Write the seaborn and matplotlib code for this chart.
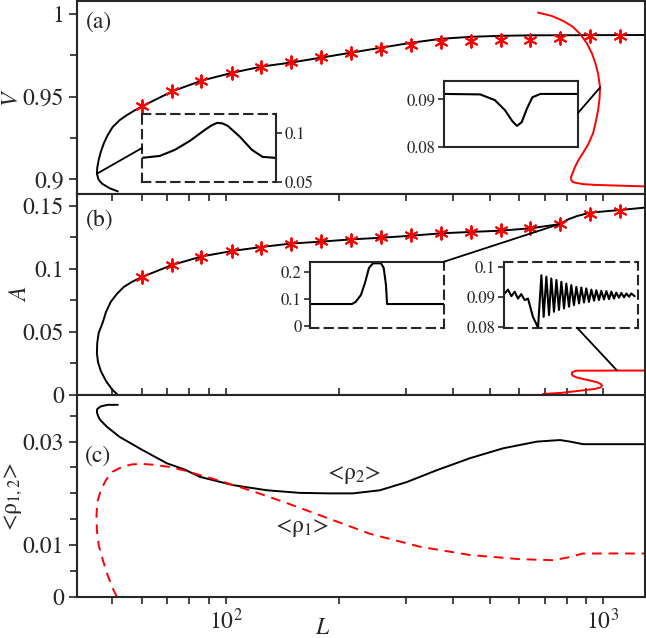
import numpy as np
import pandas as pd
import seaborn as sns
import matplotlib.pyplot as plt
from matplotlib.patches import ConnectionPatch
from matplotlib.ticker import FixedLocator, MultipleLocator, FuncFormatter, LogLocator, NullFormatter

# ---- valores ----
# (a) V frente a L, rama negra (rama inferior -> punto de giro -> rama superior)
L_v = [51.7, 49.2, 47.0, 46.0, 45.5, 45.6, 46.0, 46.6, 47.5, 48.6, 50.1, 52.3, 54.6, 57.4,
       60, 72, 86.4, 104, 124.6, 149, 179, 215, 258, 310, 372, 446, 535, 642, 1291]
V_v = [0.8926, 0.8945, 0.8972, 0.8996, 0.9033, 0.9069, 0.9117, 0.9165, 0.9219, 0.9267,
       0.9316, 0.9358, 0.9388, 0.9418, 0.9442, 0.9532, 0.9598, 0.9645, 0.9683, 0.9707,
       0.9737, 0.9767, 0.9797, 0.9827, 0.9851, 0.9863, 0.9869, 0.9872, 0.9874]
# (a) rama roja
L_vr = [672, 730, 783, 830, 869, 905, 935, 955, 970, 982, 978, 970, 957, 941, 915, 885, 860,
        843, 823, 823, 832, 855, 885, 960, 1063, 1291]
V_vr = [1.001, 0.999, 0.996, 0.9925, 0.9881, 0.9825, 0.9761, 0.9700, 0.964, 0.9556, 0.9480,
        0.9418, 0.9350, 0.9279, 0.9215, 0.9159, 0.9115, 0.9075, 0.9015, 0.8995, 0.8982,
        0.8976, 0.8970, 0.8965, 0.8962, 0.8956]

# simulaciones (asteriscos)
L_star = [60, 72, 86, 104, 124, 149, 179, 215, 258, 310, 372, 446, 535, 642, 770, 924, 1109]
V_star = [0.9442, 0.9534, 0.9598, 0.9645, 0.9683, 0.9709, 0.9739, 0.9765, 0.9789, 0.9815,
          0.9829, 0.9839, 0.9845, 0.9845, 0.9853, 0.9865, 0.9869]
A_star = [0.0934, 0.1032, 0.1098, 0.1143, 0.1169, 0.1198, 0.1225, 0.123, 0.1252, 0.127,
          0.1283, 0.1291, 0.131, 0.1328, 0.1357, 0.1437, 0.1463]

# (b) A frente a L
L_a = [51.7, 49.8, 48.1, 46.6, 45.8, 45.5, 45.6, 46.0, 47.2, 48.1, 49.5, 51.4, 53.6, 56.3,
       60, 72, 86.4, 104, 124.6, 149, 179, 215, 258, 310, 372, 446, 535, 642, 764, 810, 853,
       924, 1109, 1291]
A_a = [0, 0.0048, 0.0111, 0.019, 0.0262, 0.0333, 0.0413, 0.0492, 0.0579, 0.0659, 0.0738,
       0.0802, 0.0857, 0.0897, 0.0937, 0.1032, 0.11, 0.1143, 0.1175, 0.1202, 0.1217, 0.1235,
       0.1248, 0.1264, 0.1283, 0.1294, 0.1304, 0.1323, 0.1355, 0.1395, 0.142, 0.1447,
       0.1468, 0.1487]
L_ar = [693, 783, 885, 950, 985, 994, 985, 964, 925, 885, 850, 832, 826, 828, 840, 853, 964,
        1089, 1291]
A_ar = [0.0008, 0.0018, 0.0037, 0.0048, 0.0060, 0.0074, 0.0088, 0.0101, 0.0114, 0.0127,
        0.0140, 0.0153, 0.0166, 0.018, 0.0188, 0.0193, 0.0193, 0.0194, 0.0194]

# (c) densidades medias
L_r2 = [51.7, 48.6, 46.6, 45.6, 45.5, 45.8, 46.4, 48.3, 52.3, 60, 69.8, 77.8, 85.3, 104.4,
        128.5, 157, 188.6, 217, 256, 302, 363, 444, 543, 668, 769, 817, 885, 1000, 1291]
rho2 = [0.0371, 0.0371, 0.0368, 0.0363, 0.0357, 0.0350, 0.0342, 0.0329, 0.0309, 0.0284,
        0.0258, 0.0246, 0.0232, 0.0216, 0.0206, 0.0201, 0.0200, 0.0200, 0.0206, 0.0222,
        0.0245, 0.0268, 0.0287, 0.0300, 0.0303, 0.0300, 0.0295, 0.0295, 0.0295]
L_r1 = [51.4, 50.1, 48.6, 47.2, 46.0, 45.5, 45.4, 45.6, 46.6, 48.1, 50.1, 53.0, 56.3, 60,
        64.8, 71.0, 76.9, 94.6, 115.8, 141.7, 174.2, 241, 327, 444, 602, 737, 803,
        885, 1291]
rho1 = [0, 0.0017, 0.0042, 0.0071, 0.0100, 0.0129, 0.0158, 0.0183, 0.0206, 0.0226, 0.0242,
        0.0251, 0.0256, 0.0257, 0.0255, 0.0251, 0.0245, 0.0226, 0.0206, 0.0184, 0.0160,
        0.0122, 0.0097, 0.0081, 0.0073, 0.0071, 0.0076, 0.0084, 0.0084]

# recuadros (perfiles)
ins1_x = [0, 0.134, 0.246, 0.358, 0.47, 0.52, 0.56, 0.6, 0.64, 0.73, 0.82, 0.9, 1]
ins1_y = [0.0745, 0.0765, 0.0827, 0.0918, 0.103, 0.1075, 0.110, 0.1095, 0.107, 0.096,
          0.0827, 0.0755, 0.0745]
ins2_x = [0, 0.27, 0.38, 0.455, 0.51, 0.545, 0.58, 0.62, 0.66, 0.72, 1]
ins2_y = [0.0911, 0.0910, 0.0898, 0.0877, 0.0854, 0.0844, 0.0852, 0.0881, 0.0904, 0.0911, 0.0911]
ins3_x = [0, 0.313, 0.34, 0.38, 0.41, 0.44, 0.47, 0.53, 0.55, 0.567, 0.575, 1]
ins3_y = [0.0815, 0.0815, 0.089, 0.115, 0.159, 0.215, 0.232, 0.232, 0.215, 0.152, 0.0815, 0.0815]
ins4_x = [0.005, 0.030, 0.055, 0.080, 0.104, 0.129, 0.154, 0.179, 0.216, 0.254, 0.279, 0.296,
          0.316, 0.336, 0.353, 0.373, 0.391, 0.410, 0.428, 0.448, 0.465, 0.485, 0.502, 0.522,
          0.540, 0.560, 0.577, 0.597, 0.614, 0.634, 0.652, 0.672, 0.689, 0.709, 0.726, 0.746,
          0.764, 0.784, 0.801, 0.821, 0.838, 0.858, 0.876, 0.896, 0.913, 0.933, 0.950, 0.975]
ins4_y = [0.0911, 0.0924, 0.0902, 0.0917, 0.0894, 0.0909, 0.0889, 0.0894, 0.0833, 0.0797,
          0.0972, 0.0833, 0.0967, 0.0839, 0.0961, 0.0850, 0.0956, 0.0856, 0.0950, 0.0861,
          0.0944, 0.0867, 0.0939, 0.0872, 0.0933, 0.0878, 0.0931, 0.0881, 0.0928, 0.0883,
          0.0924, 0.0887, 0.0922, 0.0889, 0.0920, 0.0891, 0.0919, 0.0892, 0.0917, 0.0894,
          0.0914, 0.0897, 0.0913, 0.0898, 0.0911, 0.0900, 0.0911, 0.0902]

# ---- estilo ----
sns.set_style("ticks")
plt.rcParams['font.family'] = ['STIXGeneral', 'DejaVu Serif']
plt.rcParams['mathtext.fontset'] = 'stix'
plt.rcParams['axes.linewidth'] = 1.5

fig = plt.figure(figsize=(6.46, 6.38), dpi=100)
ax_a = fig.add_axes([0.1192, 0.6959, 0.8793, 0.3025])
ax_b = fig.add_axes([0.1192, 0.3809, 0.8793, 0.3150])
ax_c = fig.add_axes([0.1192, 0.0643, 0.8793, 0.3166])

fmt = FuncFormatter(lambda v, p: f"{v:g}")
for ax in (ax_a, ax_b, ax_c):
    ax.set_xscale('log')
    ax.set_xlim(40.3, 1292)
    ax.xaxis.set_major_locator(LogLocator(base=10))
    ax.xaxis.set_minor_locator(LogLocator(base=10, subs=np.arange(2, 10)))
    ax.xaxis.set_minor_formatter(NullFormatter())
    ax.yaxis.set_major_formatter(fmt)
    ax.tick_params(axis='y', which='major', direction='out', length=6, width=1.2, labelsize=17)
    ax.tick_params(axis='y', which='minor', direction='out', length=5, width=1.2)
    ax.tick_params(axis='x', which='both', width=1.2, labelsize=17)
    for s in ax.spines.values():
        s.set_linewidth(1.5)

lw = 1.4
# panel (a)
sns.lineplot(x=L_v, y=V_v, sort=False, estimator=None, color='black', lw=lw, ax=ax_a)
sns.lineplot(x=L_vr, y=V_vr, sort=False, estimator=None, color='red', lw=lw, ax=ax_a)
sns.scatterplot(x=L_star, y=V_star, marker=(6, 2, 0), color='red', s=80, linewidth=1.4,
                ax=ax_a, zorder=5)
ax_a.set_ylim(0.891, 1.008)
ax_a.yaxis.set_major_locator(MultipleLocator(0.05))
ax_a.yaxis.set_minor_locator(MultipleLocator(0.025))
ax_a.tick_params(axis='x', which='both', bottom=False, top=False, labelbottom=False)
ax_a.set_ylabel('V', fontsize=17, style='italic')
ax_a.yaxis.set_label_coords(-0.098, 0.5)
ax_a.text(0.016, 0.89, '(a)', transform=ax_a.transAxes, fontsize=17, va='center')

# panel (b)
sns.lineplot(x=L_a, y=A_a, sort=False, estimator=None, color='black', lw=lw, ax=ax_b)
sns.lineplot(x=L_ar, y=A_ar, sort=False, estimator=None, color='red', lw=lw, ax=ax_b)
sns.scatterplot(x=L_star, y=A_star, marker=(6, 2, 0), color='red', s=80, linewidth=1.4,
                ax=ax_b, zorder=5)
ax_b.set_ylim(0, 0.1595)
ax_b.yaxis.set_major_locator(MultipleLocator(0.05))
ax_b.yaxis.set_minor_locator(MultipleLocator(0.025))
ax_b.tick_params(axis='x', which='both', direction='in', top=True, bottom=True,
                 labelbottom=False, length=5)
ax_b.set_ylabel('A', fontsize=17, style='italic')
ax_b.yaxis.set_label_coords(-0.078, 0.5)
ax_b.text(0.016, 0.87, '(b)', transform=ax_b.transAxes, fontsize=17, va='center')

# panel (c)
sns.lineplot(x=L_r2, y=rho2, sort=False, estimator=None, color='black', lw=lw, ax=ax_c)
sns.lineplot(x=L_r1, y=rho1, sort=False, estimator=None, color='red', lw=lw,
             linestyle=(0, (5, 3.5)), ax=ax_c)
ax_c.set_ylim(0, 0.039)
ax_c.yaxis.set_major_locator(FixedLocator([0, 0.01, 0.03]))
ax_c.yaxis.set_minor_locator(MultipleLocator(0.005))
ax_c.tick_params(axis='x', which='both', direction='out', top=False, bottom=True, length=5)
ax_c.set_ylabel(r'<ρ$_{\mathit{1,2}}$>', fontsize=17)
ax_c.yaxis.set_label_coords(-0.092, 0.5)
ax_c.set_xlabel('L', fontsize=17, style='italic')
ax_c.xaxis.set_label_coords(0.43, -0.098)
ax_c.text(0.014, 0.70, '(c)', transform=ax_c.transAxes, fontsize=17, va='center')
ax_c.text(185, 0.0235, r'<ρ$_2$>', fontsize=17, va='center', ha='left')
ax_c.text(135, 0.0133, r'<ρ$_1$>', fontsize=17, va='center', ha='left')

# ---- recuadros ----
dash = (0, (4, 3))


def inset(rect, xs, ys, ylim, yticks, dashed, right=False):
    ins = fig.add_axes(rect)
    ins.set_facecolor('white')
    sns.lineplot(x=xs, y=ys, sort=False, estimator=None, color='black', lw=1.5, ax=ins)
    ins.set_xlim(0, 1)
    ins.set_ylim(*ylim)
    ins.set_xticks([])
    ins.set_yticks(yticks)
    ins.yaxis.set_major_formatter(fmt)
    if right:
        ins.yaxis.tick_right()
    ins.tick_params(axis='y', direction='out', length=4, width=1.2, labelsize=12, pad=2)
    for name, s in ins.spines.items():
        s.set_linewidth(1.5)
        if name in dashed:
            s.set_linestyle(dash)
    return ins


ins1 = inset([0.2198, 0.7147, 0.2074, 0.1066], ins1_x, ins1_y, (0.05, 0.119), [0.05, 0.1],
             dashed=('top', 'bottom', 'left'), right=True)
ins2 = inset([0.6873, 0.7696, 0.2074, 0.1034], ins2_x, ins2_y, (0.08, 0.0938), [0.08, 0.09],
             dashed=())
ins3 = inset([0.4799, 0.4864, 0.2074, 0.1034], ins3_x, ins3_y, (-0.006, 0.238), [0, 0.1, 0.2],
             dashed=('bottom', 'right'))
ins4 = inset([0.7802, 0.4864, 0.2074, 0.1034], ins4_x, ins4_y, (0.0797, 0.1017),
             [0.08, 0.09, 0.1], dashed=('top', 'bottom', 'right'))

# lineas de conexion
links = [
    (ins1, (0, 0.5), ax_a, (L_v[4], V_v[4])),
    (ins2, (1, 0.515), ax_a, (L_vr[9], V_vr[9])),
    (ins3, (1, 1), ax_b, (L_a[28], A_a[28])),
    (ins4, (0.545, 0), ax_b, (L_ar[17], A_ar[17])),
]
for ins, pa, ax, pb in links:
    con = ConnectionPatch(xyA=pa, coordsA=ins.transAxes, xyB=pb, coordsB=ax.transData,
                          color='black', lw=1.3)
    fig.add_artist(con)

plt.savefig('out.png', dpi=100)
